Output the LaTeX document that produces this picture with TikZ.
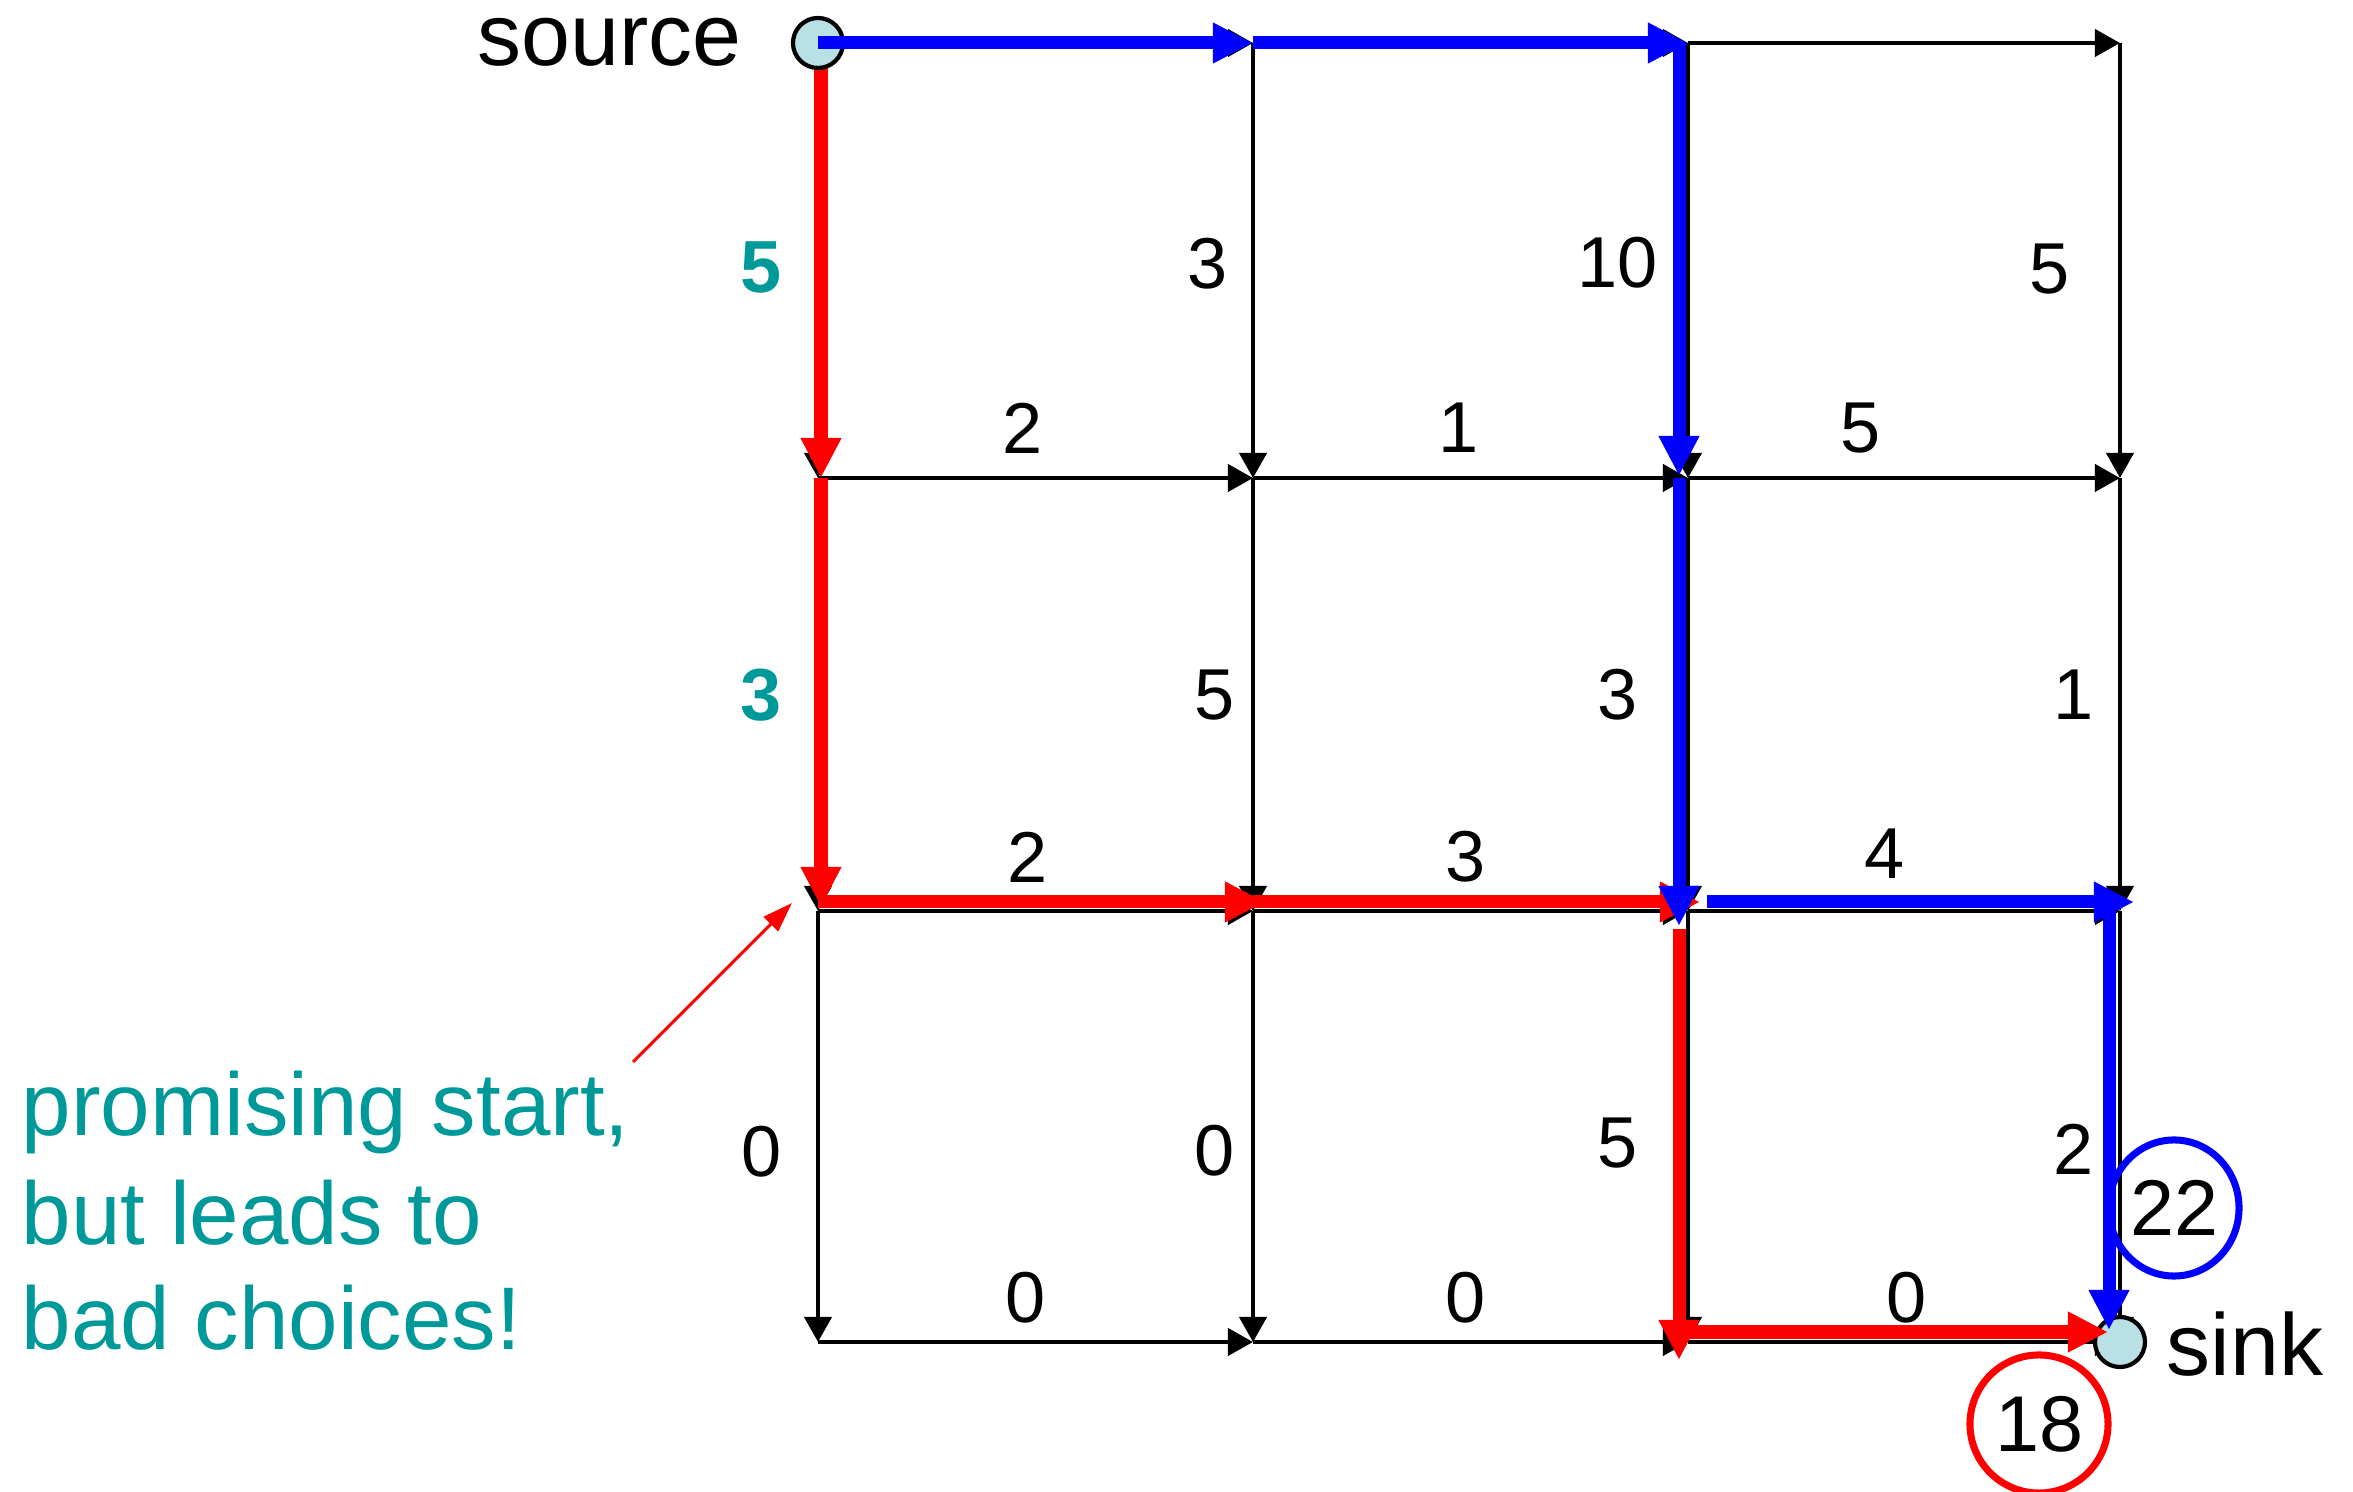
\documentclass[tikz,border=0pt]{standalone}
\usepackage{fontspec}
\setmainfont{Liberation Sans}
\usetikzlibrary{arrows.meta,calc,shapes.geometric}
\definecolor{tealtxt}{RGB}{0,153,153}
\definecolor{nodefill}{RGB}{185,224,228}
\definecolor{pblue}{RGB}{0,0,255}
\definecolor{pred}{RGB}{255,0,0}
\begin{document}
\begin{tikzpicture}[x=0.01cm,y=-0.01cm,
  edge/.style={draw=black,line width=1.15pt,-{Triangle[length=0.25cm,width=0.27cm]}},
  bluepath/.style={draw=pblue,line width=3.7pt,-{Triangle[length=0.40cm,width=0.38cm]}},
  redpath/.style={draw=pred,line width=3.7pt,-{Triangle[length=0.40cm,width=0.38cm]}},
  vertex/.style={circle,draw=black,line width=1.2pt,fill=nodefill,minimum size=0.50cm,inner sep=0pt},
  lab/.style={inner sep=0pt,font=\fontsize{20.5}{24}\selectfont},
  tlab/.style={inner sep=0pt,text=tealtxt,font=\fontsize{21}{24}\selectfont\bfseries},
  bigtxt/.style={inner sep=0pt,font=\fontsize{25}{30}\selectfont},
  notetxt/.style={inner sep=0pt,text=tealtxt,anchor=base west,font=\fontsize{25.3}{30.7}\selectfont},
  total/.style={inner sep=0pt,line width=2pt,font=\fontsize{22.5}{26}\selectfont}
]
\useasboundingbox (0,0) rectangle (2353,1492);

% grid points
\foreach \i/\x in {0/818,1/1253,2/1688,3/2120}{
  \foreach \j/\y in {0/43,1/478,2/911,3/1342}{
    \coordinate (n\i\j) at (\x,\y);
  }
}

% black grid edges
\foreach \i/\k in {0/1,1/2,2/3}{
  \foreach \j in {0,1,2,3}{
    \draw[edge] (n\i\j) -- (n\k\j);
    \draw[edge] (n\j\i) -- (n\j\k);
  }
}

% sink vertex
\node[vertex] (snk) at (n33) {};

% red path
\draw[redpath] ($(n00)+(3,0)$) -- ($(n01)+(3,0)$);
\draw[redpath] ($(n01)+(3,0)$) -- ($(n02)+(3,-4)$);
\draw[redpath] ($(n02)+(0,-9)$) -- ($(n12)+(12,-9)$);
\draw[redpath] ($(n12)+(0,-9)$) -- ($(n22)+(12,-9)$);
\draw[redpath] ($(n22)+(-9,18)$) -- ($(n23)+(-9,18)$);
\draw[redpath] ($(n23)+(-9,-10)$) -- ($(n33)+(-12,-10)$);

% source vertex
\node[vertex] (src) at (n00) {};

% blue path
\draw[bluepath] (src.center) -- (n10);
\draw[bluepath] (n10) -- (n20);
\draw[bluepath] ($(n20)+(-9,0)$) -- ($(n21)+(-9,-2)$);
\draw[bluepath] ($(n21)+(-9,0)$) -- ($(n22)+(-9,15)$);
\draw[bluepath] ($(n22)+(19,-9)$) -- ($(n32)+(14,-9)$);
\draw[bluepath] ($(n32)+(-11,0)$) -- ($(n33)+(-11,-12)$);

% vertex labels
\node[bigtxt,anchor=base east] (srct) at (742,66) {source};
\node[bigtxt,anchor=base west] (snkt) at (2166,1376) {sink};

% edge weights
\node[tlab] (w1) at (761,267) {5};
\node[lab]  (w2) at (1208,264) {3};
\node[lab]  (w3) at (1618,263) {10};
\node[lab]  (w4) at (2050,269) {5};
\node[lab]  (w5) at (1023,428) {2};
\node[lab]  (w6) at (1459,428) {1};
\node[lab]  (w7) at (1861,428) {5};
\node[tlab] (w8) at (761,695) {3};
\node[lab]  (w9) at (1215,695) {5};
\node[lab]  (w10) at (1618,695) {3};
\node[lab]  (w11) at (2074,695) {1};
\node[lab]  (w12) at (1028,857) {2};
\node[lab]  (w13) at (1466,857) {3};
\node[lab]  (w14) at (1885,854) {4};
\node[lab]  (w15) at (762,1152) {0};
\node[lab]  (w16) at (1215,1151) {0};
\node[lab]  (w17) at (1618,1143) {5};
\node[lab]  (w18) at (2074,1149) {2};
\node[lab]  (w19) at (1026,1298) {0};
\node[lab]  (w20) at (1466,1298) {0};
\node[lab]  (w21) at (1907,1298) {0};

% totals
\node[total,ellipse,draw=pblue,minimum width=1.30cm,minimum height=1.36cm] (tblue) at (2174,1208) {22};
\node[total,circle,draw=pred,minimum size=1.38cm] (tred) at (2039,1424) {18};

% note
\node[notetxt] (note1) at (21,1136) {promising start,};
\node[notetxt] (note2) at (21,1245) {but leads to};
\node[notetxt] (note3) at (21,1350) {bad choices!};
\coordinate (ptrS) at (633,1062);
\coordinate (ptrE) at (792,903);
\draw[draw=pred,line width=0.9pt,-{Triangle[length=0.30cm,width=0.20cm]}] (ptrS) -- (ptrE);
\end{tikzpicture}
\end{document}
